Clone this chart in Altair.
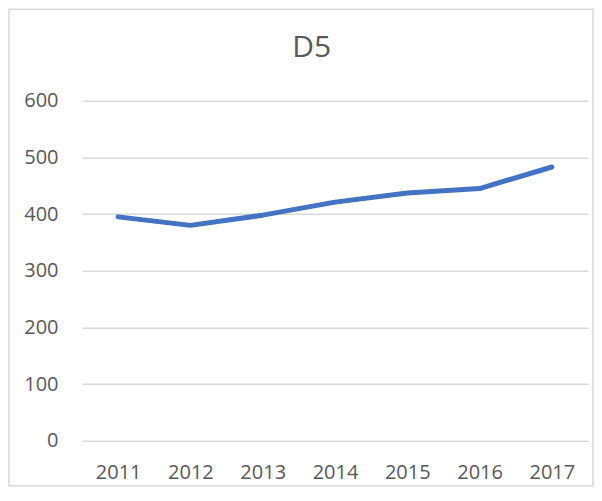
import altair as alt
import pandas as pd

years = ["2011", "2012", "2013", "2014", "2015", "2016", "2017"]
values = [395, 380, 398, 421, 437, 445, 483]
y_ticks = [0, 100, 200, 300, 400, 500, 600]
title_text = "D5"

df = pd.DataFrame({"year": years, "value": values})
title_df = pd.DataFrame({"t": [title_text]})

FONT = "Open Sans"
GRAY_TXT = "#595959"
GRID = "#d9d9d9"

line = alt.Chart(df).mark_line(
    color="#4472C4", strokeWidth=5, strokeCap="round", strokeJoin="round"
).encode(
    x=alt.X("year:N", sort=years, title=None,
            axis=alt.Axis(labelAngle=0, ticks=False, domain=False, grid=False,
                          labelFont=FONT, labelFontSize=20, labelColor=GRAY_TXT,
                          labelPadding=22)),
    y=alt.Y("value:Q", title=None,
            scale=alt.Scale(domain=[0, 600], nice=False),
            axis=alt.Axis(values=y_ticks, ticks=False, domain=False,
                          gridColor=GRID, gridWidth=1.5,
                          labelFont=FONT, labelFontSize=20, labelColor=GRAY_TXT,
                          labelPadding=24)),
)

border = alt.Chart(title_df).mark_rect(
    fill=None, stroke=GRID, strokeWidth=1.5
).encode(
    x=alt.value(-73),
    x2=alt.value(511),
    y=alt.value(-91.5),
    y2=alt.value(385),
)

title = alt.Chart(title_df).mark_text(
    font=FONT, fontSize=30, color=GRAY_TXT, baseline="alphabetic", align="center"
).encode(
    text="t:N",
    x=alt.value(229.7),
    y=alt.value(-43.4),
)

chart = alt.layer(border, line, title).properties(
    width=506,
    height=340,
    autosize=alt.AutoSizeParams(type="none"),
    padding={"left": 74, "top": 92.7, "right": 6, "bottom": 48},
).configure_view(stroke=None)

chart.save("out.html", embed_options={"renderer": "svg", "actions": False})
